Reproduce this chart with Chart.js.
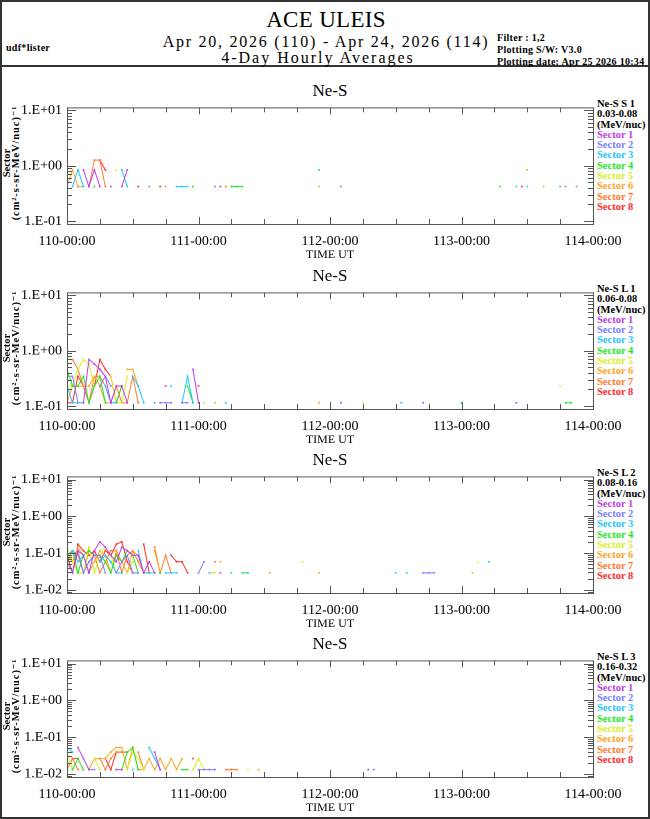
<!DOCTYPE html>
<html>
<head>
<meta charset="utf-8">
<title>ACE ULEIS Ne-S sectors</title>
<script src="https://cdn.jsdelivr.net/npm/chart.js@4.4.1/dist/chart.umd.min.js"></script>
<style>
  body { margin: 0; background: #fff; }
  #page { position: relative; width: 650px; height: 819px; overflow: hidden;
          font-family: "Liberation Serif", "DejaVu Serif", serif; color: #000; }
  #frame { position: absolute; left: 0; top: 0; width: 646px; height: 815px; border: 2px solid #333; }
  #rule { position: absolute; left: 0; top: 65px; width: 650px; height: 0; border-top: 2px solid #333; }
  .t { position: absolute; white-space: nowrap; }
  .c { left: 0; width: 652px; text-align: center; }
  .small { font-weight: bold; font-size: 10px; line-height: 12px; letter-spacing: 0.3px; }
  .ptitle { position: absolute; left: 280px; width: 100px; text-align: center; font-size: 17px; line-height: 18px; }
  .legend { position: absolute; left: 597px; font-weight: bold; font-size: 10.5px; line-height: 10.3px; white-space: nowrap; }
  .ytitle { position: absolute; width: 150px; height: 18px; font-weight: bold; font-size: 10.5px; line-height: 9px;
            text-align: center; white-space: nowrap; transform: rotate(-90deg); transform-origin: 50% 50%; }
  .ytitle .u { letter-spacing: 0.9px; }
  canvas { position: absolute; left: 0; }
</style>
</head>
<body>
<div id="page">
  <div id="frame"></div>
  <div id="rule"></div>
  <div class="t c" style="top:6px;font-size:23px;line-height:28px;letter-spacing:0.3px;">ACE ULEIS</div>
  <div class="t c" style="top:32px;font-size:16px;line-height:20px;letter-spacing:1.75px;">Apr 20, 2026 (110) - Apr 24, 2026 (114)</div>
  <div class="t c" style="top:48px;left:-8px;font-size:16px;line-height:20px;letter-spacing:2px;">4-Day Hourly Averages</div>
  <div class="t small" style="left:6px;top:42px;">udf*lister</div>
  <div class="t small" style="left:497px;top:32px;">Filter : 1,2<br>Plotting S/W: V3.0<br>Plotting date: Apr 25 2026 10:34</div>
</div>
<script>
// hours since 110-00:00, one entry per hourly average that was plotted
const sectorNames = ["Sector 1", "Sector 2", "Sector 3", "Sector 4", "Sector 5", "Sector 6", "Sector 7", "Sector 8"];
const sectorColors = ["#c23de6", "#7d7dff", "#1ec6ff", "#1ee61e", "#d4f01e", "#ffa41e", "#ff7a2a", "#ff2a2a"];

const dayTickHours = [0, 24, 48, 72, 96];
const dayTickLabels = ["110-00:00", "111-00:00", "112-00:00", "113-00:00", "114-00:00"];

const panelTitles = ["Ne-S", "Ne-S", "Ne-S", "Ne-S"];
const channelNames = ["Ne-S S 1", "Ne-S L 1", "Ne-S L 2", "Ne-S L 3"];
const energyRanges = ["0.03-0.08", "0.06-0.08", "0.08-0.16", "0.16-0.32"];

// Ne-S S 1, 0.03-0.08 MeV/nuc
const neS_S1 = [
  [[3, 0.84], [4, 0.42], [5, 0.84], [6, 0.42], [8, 0.42], [10, 0.42], [11, 0.84]],
  [[15, 0.42], [27, 0.42], [50, 0.42]],
  [[1, 0.42], [2, 0.84], [3, 0.42], [10, 0.84], [11, 0.42], [20, 0.42], [21, 0.42], [22, 0.42], [46, 0.84], [82, 0.42], [84, 0.42], [90, 0.42]],
  [[5, 0.42], [23, 0.42], [30, 0.42], [31, 0.42], [32, 0.42], [79, 0.42]],
  [[9, 0.84]],
  [[0, 0.42], [1, 0.84], [2, 0.42], [3, 0.42], [18, 0.42], [46, 0.42], [84, 0.84], [87, 0.42]],
  [[4, 0.42], [5, 1.26], [6, 1.26], [7, 0.42], [29, 0.42], [91, 0.42], [93, 0.42]],
  [[6, 1.26], [7, 0.84], [13, 0.42], [17, 0.42], [28, 0.42], [83, 0.42]]
];

// Ne-S L 1, 0.06-0.08 MeV/nuc
const neS_L1 = [
  [[3, 0.115], [4, 0.69], [5, 0.575], [6, 0.46], [7, 0.345], [8, 0.115], [9, 0.23], [10, 0.23], [11, 0.115], [18, 0.23], [23, 0.46], [24, 0.115], [50, 0.115], [65, 0.115], [82, 0.115]],
  [[0, 0.345], [1, 0.345], [2, 0.115], [6, 0.23], [7, 0.345], [8, 0.23], [17, 0.115], [18, 0.115], [19, 0.115], [21, 0.115], [22, 0.115]],
  [[0, 0.23], [1, 0.115], [2, 0.115], [3, 0.115], [7, 0.23], [8, 0.115], [9, 0.115], [12, 0.345], [13, 0.23], [14, 0.115], [16, 0.115], [19, 0.23], [21, 0.115], [22, 0.345], [23, 0.115], [29, 0.115], [61, 0.115], [72, 0.115]],
  [[0, 0.46], [1, 0.23], [2, 0.23], [3, 0.345], [4, 0.115], [5, 0.23], [6, 0.345], [7, 0.115], [9, 0.115], [10, 0.23], [22, 0.23], [23, 0.115], [91, 0.115], [92, 0.115]],
  [[0, 0.23], [1, 0.23], [2, 0.46], [3, 0.69], [4, 0.575], [5, 0.23], [8, 0.345], [9, 0.115], [10, 0.115], [11, 0.345], [25, 0.115], [54, 0.115], [90, 0.23]],
  [[0, 0.115], [1, 0.23], [2, 0.23], [3, 0.23], [4, 0.23], [5, 0.345], [6, 0.23], [7, 0.115], [8, 0.115], [11, 0.46], [12, 0.46], [13, 0.23], [27, 0.115], [46, 0.115]],
  [[1, 0.69], [2, 0.46], [3, 0.23], [4, 0.115], [5, 0.345], [6, 0.345], [7, 0.23], [8, 0.115], [9, 0.23], [10, 0.115], [11, 0.115], [12, 0.345], [13, 0.115]],
  [[0, 0.115], [1, 0.115], [2, 0.345], [3, 0.23], [4, 0.115], [5, 0.23], [6, 0.69], [7, 0.46], [8, 0.345], [9, 0.115], [10, 0.23], [17, 0.115], [24, 0.23]]
];

// Ne-S L 2, 0.08-0.16 MeV/nuc
const neS_L2 = [
  [[1, 0.029], [2, 0.116], [3, 0.087], [4, 0.029], [5, 0.116], [6, 0.203], [7, 0.145], [8, 0.087], [9, 0.058], [10, 0.145], [11, 0.116], [12, 0.087], [13, 0.087], [14, 0.029], [15, 0.058], [16, 0.029]],
  [[0, 0.058], [1, 0.029], [2, 0.116], [3, 0.029], [4, 0.058], [5, 0.087], [6, 0.087], [7, 0.029], [9, 0.029], [10, 0.058], [11, 0.087], [12, 0.029], [13, 0.029], [24, 0.029], [25, 0.058], [28, 0.029], [65, 0.029], [66, 0.029], [67, 0.029]],
  [[0, 0.087], [1, 0.116], [2, 0.058], [3, 0.087], [4, 0.029], [6, 0.058], [7, 0.087], [8, 0.058], [9, 0.029], [10, 0.029], [13, 0.116], [14, 0.029], [15, 0.029], [16, 0.029], [18, 0.029], [19, 0.029], [20, 0.029], [26, 0.029], [30, 0.029], [33, 0.029], [60, 0.029], [62, 0.029], [77, 0.058]],
  [[0, 0.087], [1, 0.116], [2, 0.029], [3, 0.087], [4, 0.116], [5, 0.087], [6, 0.087], [7, 0.058], [8, 0.029], [9, 0.087], [10, 0.058], [11, 0.116], [12, 0.087], [13, 0.029], [15, 0.029], [17, 0.029], [32, 0.029], [33, 0.029]],
  [[0, 0.145], [1, 0.058], [2, 0.029], [3, 0.029], [4, 0.145], [5, 0.029], [6, 0.087], [7, 0.145], [8, 0.087], [9, 0.029], [11, 0.029], [12, 0.058], [14, 0.029], [15, 0.029], [26, 0.029], [27, 0.029], [43, 0.058], [75, 0.058]],
  [[0, 0.087], [1, 0.058], [2, 0.145], [3, 0.087], [4, 0.029], [5, 0.058], [6, 0.116], [7, 0.087], [8, 0.029], [9, 0.116], [10, 0.058], [11, 0.029], [12, 0.116], [13, 0.087], [14, 0.029], [16, 0.116], [17, 0.029], [28, 0.058], [37, 0.029], [46, 0.029], [74, 0.029]],
  [[0, 0.058], [1, 0.116], [2, 0.087], [3, 0.029], [4, 0.116], [5, 0.087], [6, 0.029], [7, 0.058], [8, 0.116], [9, 0.116], [10, 0.029], [11, 0.087], [12, 0.116], [13, 0.058], [14, 0.029], [16, 0.145], [17, 0.029], [18, 0.087], [19, 0.029], [27, 0.058]],
  [[0, 0.087], [1, 0.029], [2, 0.174], [3, 0.116], [4, 0.087], [5, 0.116], [6, 0.058], [7, 0.116], [8, 0.087], [9, 0.174], [10, 0.203], [11, 0.058], [12, 0.029], [14, 0.174], [15, 0.029], [19, 0.087], [20, 0.058], [21, 0.058], [22, 0.029], [28, 0.029]]
];

// Ne-S L 3, 0.16-0.32 MeV/nuc
const neS_L3 = [
  [[2, 0.052], [3, 0.026], [4, 0.013], [9, 0.013], [10, 0.013], [16, 0.039], [17, 0.013], [55, 0.013]],
  [[0, 0.052], [4, 0.013], [5, 0.013], [24, 0.013], [25, 0.013], [26, 0.013], [27, 0.013], [56, 0.013]],
  [[0, 0.052], [1, 0.039], [12, 0.013], [15, 0.052], [16, 0.026], [17, 0.013]],
  [[1, 0.013], [2, 0.026], [3, 0.013], [10, 0.013], [11, 0.039], [12, 0.052], [13, 0.013], [21, 0.013], [22, 0.013]],
  [[0, 0.039], [1, 0.013], [5, 0.026], [6, 0.013], [11, 0.013], [12, 0.039], [13, 0.026], [14, 0.013], [23, 0.013], [24, 0.026], [25, 0.013], [33, 0.013]],
  [[4, 0.013], [5, 0.026], [6, 0.026], [7, 0.026], [8, 0.039], [9, 0.052], [10, 0.052], [11, 0.013], [12, 0.052], [13, 0.013], [14, 0.013], [15, 0.026], [16, 0.013], [17, 0.026], [18, 0.013], [19, 0.026], [20, 0.013], [21, 0.026], [35, 0.013]],
  [[0, 0.013], [1, 0.026], [2, 0.013], [6, 0.026], [7, 0.013], [8, 0.026], [9, 0.039], [10, 0.039], [11, 0.039], [13, 0.039], [14, 0.013], [29, 0.013], [30, 0.013], [31, 0.013]],
  [[1, 0.026], [2, 0.026], [7, 0.026], [8, 0.013], [9, 0.039], [10, 0.039], [11, 0.039], [23, 0.026], [30, 0.013]]
];

const panelData = [neS_S1, neS_L1, neS_L2, neS_L3];

// layout of the four plot boxes
const panelTops = [102, 287, 471, 655];
const boxHeight = 122;
const yMins = [0.0887, 0.0887, 0.0082, 0.0082];
const yMaxs = [11.27, 11.27, 12.2, 12.2];

function expLabel(v) {
  const e = Math.log10(v);
  const r = Math.round(e);
  if (Math.abs(e - r) > 1e-6) return "";
  return "1.E" + (r < 0 ? "-" : "+") + String(Math.abs(r)).padStart(2, "0");
}

// box outline plus inward tick marks on all four sides
const frameTicks = {
  id: "frameTicks",
  afterDatasetsDraw(chart) {
    const { ctx, chartArea: a, scales: { x, y } } = chart;
    ctx.save();
    ctx.strokeStyle = "#555";
    ctx.lineWidth = 1;
    ctx.strokeRect(a.left + 0.5, a.top + 0.5, a.right - a.left, a.bottom - a.top);
    ctx.beginPath();
    for (let h = x.min; h <= x.max; h += 6) {
      const px = Math.round(x.getPixelForValue(h)) + 0.5;
      const len = h % 24 === 0 ? 7 : 5;
      ctx.moveTo(px, a.bottom); ctx.lineTo(px, a.bottom - len);
      ctx.moveTo(px, a.top); ctx.lineTo(px, a.top + len);
    }
    const lo = Math.floor(Math.log10(y.min));
    const hi = Math.ceil(Math.log10(y.max));
    for (let e = lo; e <= hi; e++) {
      for (let m = 1; m < 10; m++) {
        const v = m * Math.pow(10, e);
        if (v < y.min || v > y.max) continue;
        const py = Math.round(y.getPixelForValue(v)) + 0.5;
        const len = m === 1 ? 9 : 5;
        ctx.moveTo(a.left, py); ctx.lineTo(a.left + len, py);
        ctx.moveTo(a.right, py); ctx.lineTo(a.right - len, py);
      }
    }
    ctx.stroke();
    ctx.restore();
  }
};

const page = document.getElementById("page");

panelData.forEach((sectors, p) => {
  const top = panelTops[p];

  const title = document.createElement("div");
  title.className = "ptitle";
  title.style.top = (top - 20) + "px";
  title.textContent = panelTitles[p];
  page.appendChild(title);

  // rotated y-axis title, centred on the plot box
  const ytitle = document.createElement("div");
  ytitle.className = "ytitle";
  ytitle.style.left = (10.5 - 75) + "px";
  ytitle.style.top = (top + boxHeight / 2 - 9) + "px";
  ytitle.innerHTML = "<div>Sector</div><div class=\"u\">(cm\u00b2-s-sr-MeV/nuc)\u207b\u00b9</div>";
  page.appendChild(ytitle);

  const legend = document.createElement("div");
  legend.className = "legend";
  legend.style.top = (top - 3) + "px";
  const head = [channelNames[p], energyRanges[p], "(MeV/nuc)"].map((t) => "<div>" + t + "</div>");
  const rows = sectorNames.map((n, i) => '<div style="color:' + sectorColors[i] + '">' + n + "</div>");
  legend.innerHTML = head.concat(rows).join("");
  page.appendChild(legend);

  const canvas = document.createElement("canvas");
  canvas.width = 650;
  canvas.height = 8 + boxHeight + 50;
  canvas.style.top = (top - 8) + "px";
  page.appendChild(canvas);

  new Chart(canvas.getContext("2d"), {
    type: "line",
    data: {
      datasets: sectors.map((pairs, i) => ({
        label: sectorNames[i],
        data: pairs.map(([h, v]) => ({ x: h, y: v })),
        borderColor: sectorColors[i],
        backgroundColor: sectorColors[i],
        borderWidth: 1,
        pointStyle: "rect",
        pointRadius: 1.2,
        pointBorderWidth: 0,
        pointHoverRadius: 0,
        tension: 0,
        fill: false,
        // only consecutive hours are joined
        segment: {
          borderColor: (c) => (c.p1.parsed.x - c.p0.parsed.x > 1 ? "rgba(0,0,0,0)" : undefined)
        }
      }))
    },
    options: {
      responsive: false,
      animation: false,
      devicePixelRatio: 2,
      layout: { padding: { top: 8, right: 57, left: 0, bottom: 0 } },
      plugins: { legend: { display: false }, tooltip: { enabled: false }, title: { display: false } },
      scales: {
        x: {
          type: "linear",
          min: dayTickHours[0],
          max: dayTickHours[dayTickHours.length - 1],
          afterFit: (s) => { s.height = 50; },
          afterBuildTicks: (s) => { s.ticks = dayTickHours.map((h) => ({ value: h })); },
          grid: { display: false, drawTicks: false },
          border: { display: false },
          ticks: {
            padding: 9,
            color: "#000",
            maxRotation: 0,
            autoSkip: false,
            font: { family: "Liberation Serif", size: 14 },
            callback: (v) => dayTickLabels[dayTickHours.indexOf(v)]
          },
          title: {
            display: true,
            text: "TIME UT",
            color: "#000",
            font: { family: "Liberation Serif", size: 12 },
            padding: { top: 0, bottom: 12 }
          }
        },
        y: {
          type: "logarithmic",
          min: yMins[p],
          max: yMaxs[p],
          bounds: "data",
          afterFit: (s) => { s.width = 67; },
          grid: { display: false, drawTicks: false },
          border: { display: false },
          ticks: {
            padding: 5,
            color: "#000",
            autoSkip: false,
            font: { family: "Liberation Serif", size: 14 },
            callback: (v) => expLabel(v)
          },
          title: { display: false }
        }
      }
    },
    plugins: [frameTicks]
  });
});
</script>
</body>
</html>
